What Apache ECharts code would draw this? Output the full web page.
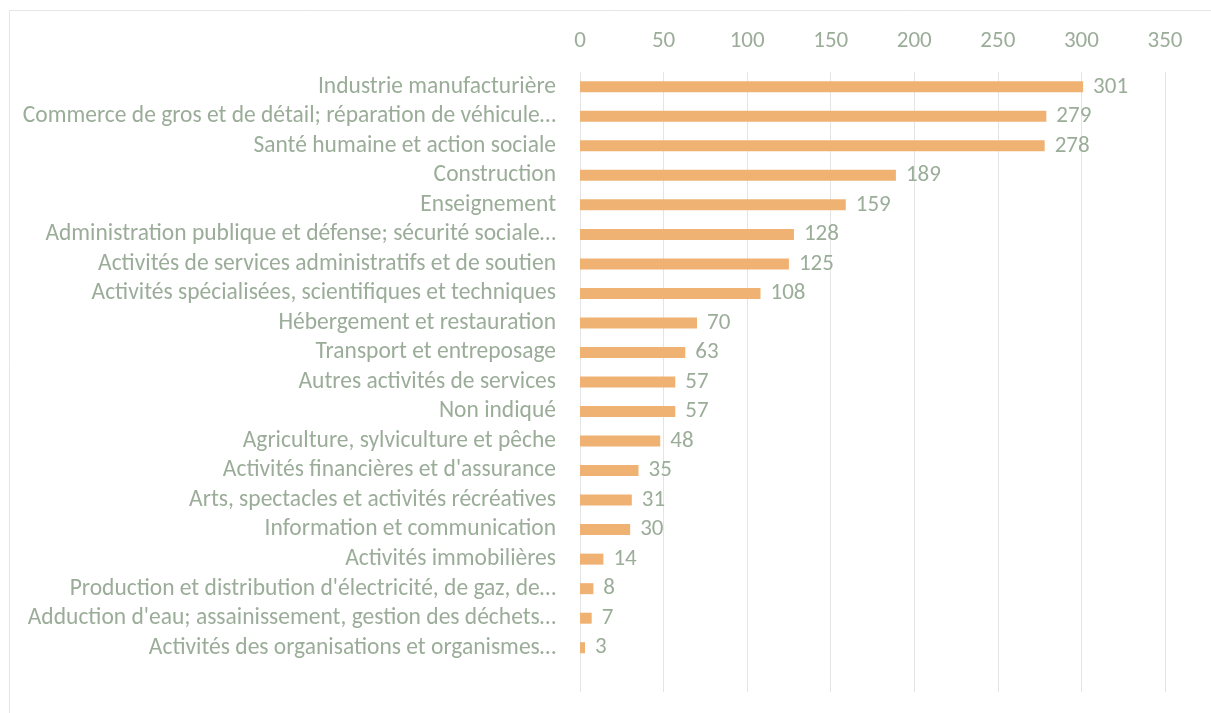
<!DOCTYPE html>
<html>
<head>
<meta charset="utf-8">
<script src="https://cdn.jsdelivr.net/npm/echarts@6/dist/echarts.min.js"></script>
<style>
  html, body { margin: 0; padding: 0; background: #fff; }
  #chart { width: 1211px; height: 713px; }
</style>
</head>
<body>
<div id="chart"></div>
<script>
// secteurs, de haut en bas (la dernière ligne est vide dans l'original)
const categories = [
  "Industrie manufacturière",
  "Commerce de gros et de détail; réparation de véhicule…",
  "Santé humaine et action sociale",
  "Construction",
  "Enseignement",
  "Administration publique et défense; sécurité sociale…",
  "Activités de services administratifs et de soutien",
  "Activités spécialisées, scientifiques et techniques",
  "Hébergement et restauration",
  "Transport et entreposage",
  "Autres activités de services",
  "Non indiqué",
  "Agriculture, sylviculture et pêche",
  "Activités financières et d'assurance",
  "Arts, spectacles et activités récréatives",
  "Information et communication",
  "Activités immobilières",
  "Production et distribution d'électricité, de gaz, de…",
  "Adduction d'eau; assainissement, gestion des déchets…",
  "Activités des organisations et organismes…",
  ""
];
const values = [301, 279, 278, 189, 159, 128, 125, 108, 70, 63, 57, 57, 48, 35, 31, 30, 14, 8, 7, 3, '-'];

const textColor = '#9BAD99';
const font = 'Carlito, "Liberation Sans Narrow", "Open Sans", sans-serif';

let myChart = echarts.init(document.getElementById('chart'));
let option = {
  animation: false,
  textStyle: { fontFamily: font },
  graphic: [{
    type: 'rect',
    shape: { x: 9.5, y: 10.5, width: 1300, height: 800 },
    style: { fill: 'none', stroke: '#E3E6E3', lineWidth: 1 }
  }],
  grid: { left: 580, right: 46, top: 72, bottom: 21 },
  xAxis: {
    type: 'value',
    position: 'top',
    min: 0,
    max: 350,
    interval: 50,
    axisLine: { show: false },
    axisTick: { show: false },
    axisLabel: { color: textColor, fontSize: 23, fontFamily: font, margin: 19 },
    splitLine: { lineStyle: { color: '#E4E4E4', width: 1 } }
  },
  yAxis: {
    type: 'category',
    inverse: true,
    data: categories,
    axisLine: { show: false },
    axisTick: { show: false },
    axisLabel: { color: textColor, fontSize: 23.5, fontFamily: font, margin: 24, interval: 0 }
  },
  series: [{
    type: 'bar',
    data: values,
    barWidth: 11,
    itemStyle: { color: '#F0B272' },
    label: {
      show: true,
      position: 'right',
      distance: 10,
      color: textColor,
      fontSize: 23,
      fontFamily: font
    }
  }]
};
myChart.setOption(option);
window.addEventListener('resize', function () {
  myChart.resize();
});
</script>
</body>
</html>
